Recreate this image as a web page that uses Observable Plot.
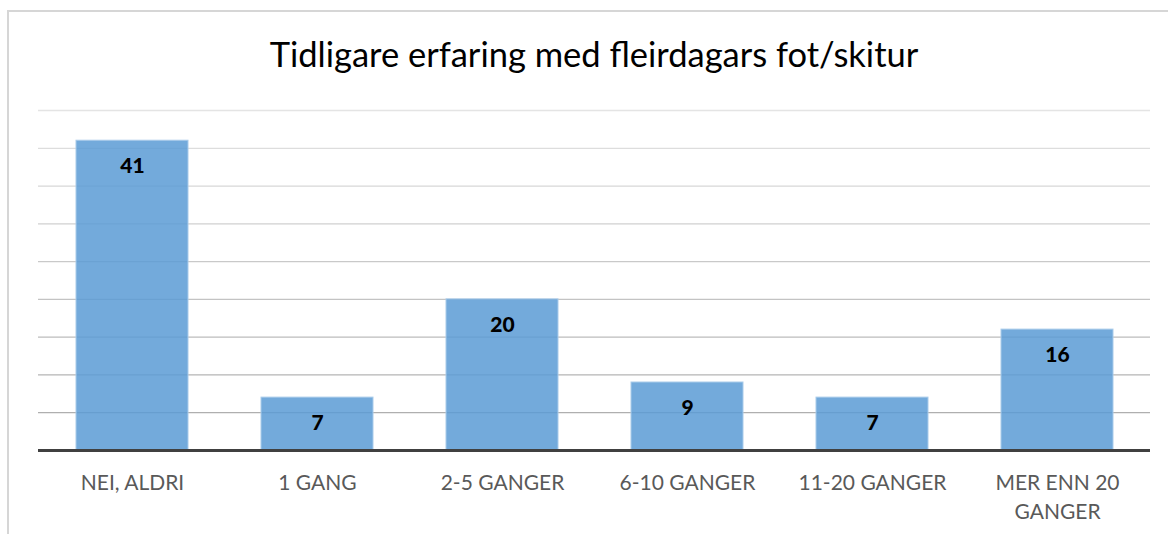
<!DOCTYPE html>
<html>
<head>
<meta charset="utf-8">
<script src="https://cdn.jsdelivr.net/npm/d3@7"></script>
<script src="https://cdn.jsdelivr.net/npm/@observablehq/plot@0.6"></script>
<style>
  html, body { margin: 0; padding: 0; background: #fff; }
  #wrap { position: relative; width: 1168px; height: 534px; overflow: hidden; font-family: Lato, "Open Sans", sans-serif; }
  #frame { position: absolute; left: 7px; top: 10px; width: 1200px; height: 600px;
           border-left: 2px solid #d6d6d6; border-top: 2px solid #d6d6d6; box-sizing: border-box; }
  #title { position: absolute; left: 0; top: 33px; width: 1188px; text-align: center;
           font-family: Lato, sans-serif; font-size: 34.5px; color: #000; white-space: nowrap; }
  #chart { position: absolute; left: 0; top: 0; }
</style>
</head>
<body>
<div id="wrap">
  <div id="frame"></div>
  <div id="title"></div>
  <div id="chart"></div>
</div>
<script>
const titleText = "Tidligare erfaring med fleirdagars fot/skitur";
const categories = ["NEI, ALDRI", "1 GANG", "2-5 GANGER", "6-10 GANGER", "11-20 GANGER", "MER ENN 20\nGANGER"];
const values = [41, 7, 20, 9, 7, 16];
const gridTicks = [5, 10, 15, 20, 25, 30, 35, 40, 45];

const data = categories.map((c, i) => ({category: c, value: values[i]}));
const gridColor = d3.interpolateRgb("#a8a8a8", "#e4e4e4");

document.getElementById("title").textContent = titleText;

const chart = Plot.plot({
  width: 1168,
  height: 534,
  marginTop: 110,
  marginBottom: 84,
  marginLeft: 38,
  marginRight: 18,
  style: {background: "transparent", fontFamily: "Lato, 'Open Sans', sans-serif", fontSize: "21px"},
  x: {domain: categories, paddingInner: 0.396, paddingOuter: 0.198, label: null},
  y: {domain: [0, 45], axis: null},
  marks: [
    Plot.ruleY(gridTicks, {stroke: d => gridColor(d / 45), strokeWidth: 1.3}),
    Plot.barY(data, {x: "category", y: "value", fill: "#5b9bd5", fillOpacity: 0.85, stroke: "#a9cbea", strokeWidth: 1}),
    Plot.ruleY([0], {stroke: "#404040", strokeWidth: 3}),
    Plot.text(data, {x: "category", y: "value", text: d => String(d.value), dy: 26, lineAnchor: "middle",
                     fontWeight: "900", fontSize: 21, fill: "#000"}),
    Plot.axisX({tickSize: 0, tickPadding: 19, fontSize: 21, fill: "#595959", lineHeight: 1.38, label: null})
  ]
});
document.getElementById("chart").appendChild(chart);
</script>
</body>
</html>
